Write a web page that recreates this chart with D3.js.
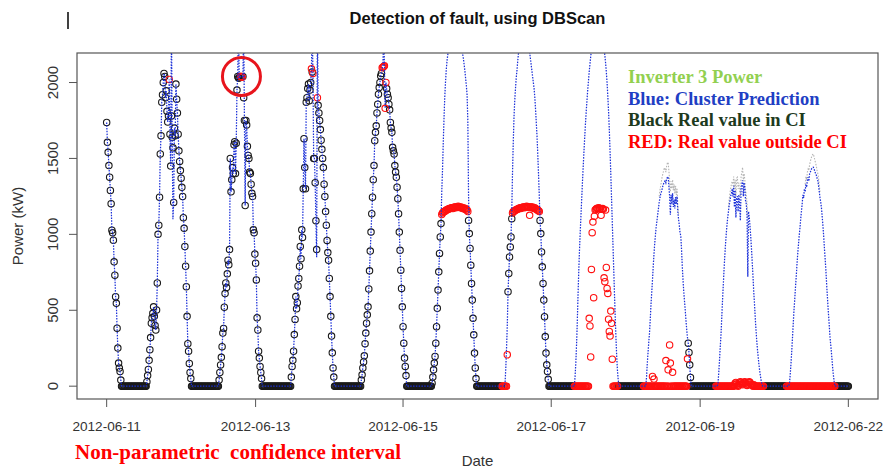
<!DOCTYPE html>
<html><head><meta charset="utf-8">
<script src="https://cdn.jsdelivr.net/npm/d3@7"></script>
<style>
body{margin:0;background:#fff}
svg{display:block;font-family:"Liberation Sans",Arial,sans-serif}
</style></head>
<body>
<svg id="chart" width="885" height="470"></svg>
<script>
// ---------------- DATA (15-minute readings, kW) ----------------
const sampleHours = 0.25;

// Inverter 3 real power, one array per day (daylight values followed by the night's zeros)
const actualD01 = [1737,1606,1540,1453,1376,1289,1202,1027,1010,961,819,731,589,546,382,251,152,119,97,40,
  0,0,0,0,0,0,0,0,0,0, 0,0,0,0,0,0,0,0,0,0, 0,0,0,0,0,0,0,0,0,0, 0,0,0,0];
const actualD02 = [30,70,110,170,240,320,415,450,480,523,460,400,370,502,680,1000,1060,1245,1530,1650,1870,1920,2000,
  2060,2040,1900,1945,1810,1740,1780,2020,1660,1450,1780,1640,1570,1210,1700,1650,1990,1890,1800,1660,1550,1480,1420,1370,1310,1250,1110,1040,920,790,655,460,280,230,150,90,50,
  0,0,0,0,0,0,0,0,0,0, 0,0,0,0,0,0,0,0,0,0, 0,0,0,0,0,0,0,0,0,0, 0,0,0,0,0,0,0];
const actualD03 = [40,90,140,190,260,350,380,520,610,680,650,740,830,800,900,1500,1280,1360,1440,1400,1590,1610,1400,1600,1950,2040,2030,2030,2040,2040,2040,2035,2040,1900,1750,1190,1750,1720,1580,1520,1500,1410,1400,1330,1270,1250,1030,1010,870,810,700,450,370,230,185,130,90,50,
  0,0,0,0,0,0,0,0,0,0, 0,0,0,0,0,0,0,0,0,0, 0,0,0,0,0,0,0,0,0,0, 0,0,0,0,0,0,0,0,0];
const actualD04 = [60,130,170,230,340,440,590,510,550,660,710,790,920,840,1030,980,1300,1630,1440,1300,1870,1900,1960,1990,1880,1950,2000,2090,2070,2060,1500,1500,1340,1090,900,1900,1850,1800,1750,1690,1620,1560,1500,1440,1330,1250,1150,1060,960,880,830,710,590,460,330,220,120,60,
  0,0,0,0,0,0,0,0,0,0, 0,0,0,0,0,0,0,0,0,0, 0,0,0,0,0,0,0,0,0,0, 0,0,0,0,0,0];
const actualD05 = [40,75,120,160,200,280,350,415,470,523,640,760,890,1015,1136,1245,1360,1453,1617,1672,1715,1800,1857,1923,1967,2000,2043,2060,2098,2100,2105,2110,1830,2000,1960,1923,1900,1857,1820,1737,1700,1672,1573,1550,1530,1453,1410,1376,1311,1235,1136,1015,895,764,644,523,392,283,185,130,70,
  0,0,0,0,0,0,0,0,0,0, 0,0,0,0,0,0,0,0,0,0, 0,0,0,0,0,0,0,0,0,0, 0,0,0,0];
const actualD06 = [20,60,108,152,196,283,392,513,633,753,874,983,1071,
  1130,1140,1145,1150,1150,1155,1160,1160,1165,1165,1170,1170,1170,1175,1175,1170,1175,1180,1180,1175,1180,1180,1185,1180,1180,1175,1180,1175,1170,1175,1170,1165,1170,1160,1160,1150,
  1092,1005,907,797,677,567,447,338,218,120,50,
  0,0,0,0,0,0,0,0,0,0, 0,0,0,0,0,0,0,0,0,0, 0,0,0,0,0,0,0,0,0,0, 0,0,0,0,0,0,0,0,0,0, 0];
const actualD07 = [207,622,742,851,917,983,1103,
  1140,1150,1150,1155,1160,1160,1165,1165,1170,1170,1175,1170,1175,1175,1180,1180,1175,1180,1180,1185,1180,1180,1180,1125,1180,1180,1175,1180,1175,1170,1175,1170,1165,1160,1160,1155,1150,
  1092,1005,884,786,677,567,458,327,218,141,97,45,
  0,0,0,0,0,0,0,0,0,0, 0,0,0,0,0,0,0,0,0,0, 0,0,0,0,0,0,0,0,0,0, 0,0,0,0,0,0,0,0,0,0, 0,0,0,0,0,0,0,0,0,0, 0,0,0];
const actualD08 = [0,447,397,193,769,1011,1081,583,1120,1160,1165,1170,1172,1170,1175,1170,1168,1125,1165,1170,1165,714,688,1160,782,644,611,441,360,330,495,414,178,
  0,0,0,0,0,0,0,0,0,0, 0,0,0,0,0,0,0,0,0,0, 0,0,0,0,0,0,0,0,0,0, 0,0,0,0,0,0,0,0,0,0, 0];
const actualD09 = [0,0,0,0,0,0,0,0,0,0,0,0,64,0,47,0,0,0,0,0,0,0,0,0,0,0,0,0,0,0,169,0,0,108,0,272,152,0,0,91,
  0,0,0,0,0,0,0,0,0,0,0,0,0,0,0,0,0,0,0,180,283,222,141,58,0,0,0,0,
  0,0,0,0,0,0,0,0,0,0, 0,0,0,0,0,0,0,0,0,0, 0,0,0,0,0,0,0,0,0,0, 0,0];
const actualD10 = [0,0,0,0,0,0,0,0,0,0,0,0,0,0,0,0,0,0,0,0,0,0,
  10,20,25,15,5,0,10,20,30,25,15,10,20,25,30,20,10,5,15,25,30,25,15,10,5,0,10,5,
  0,0,0,0,0,0,0,0,0,0,0,0,
  0,0,0,0,0,0,0,0,0,0, 0,0,0,0,0,0,0,0,0,0, 0,0,0,0,0,0,0,0,0,0];
const actualD11 = [0,0,0,0,0,0,0,0,0,0, 0,0,0,0,0,0,0,0,0,0, 0,0,0,0,0,0,0,0,0,0, 0,0,0,0,0,0,0,0,0,0,
  0,0,0,0,0,0,0,0,0,0, 0,0,0,0,0,0,0,0,0,0, 0,0,0,0,0,0,
  0,0,0,0,0,0,0,0,0,0, 0,0,0,0,0,0,0,0];

// readings (sample index ranges) that fall outside the confidence interval -> red
const outsideCI = [[84,84],[180,182],[275,275],[277,277],[283,283],[370,375],[450,485],[531,538],[545,581],[628,686],[721,780],[818,882],[913,978]];

// cluster prediction: days 1-5 follow the real values except these readings
const predFollowsUntil = 437;
const predOverrides = [[87,2400],[89,1100],[177,2400],[184,2400],[276,2400],[282,850],[283,2400],[372,2400]];
// cluster prediction for days 6-11 (start sample, values)
const predD06Start = 437;
const predD06 = [20,60,108,152,196,283,392,513,633,753,874,983,1071,
  1280,1420,1600,1760,1900,2000,2080,2140,2180,2210,2240,2260,2280,2300,2310,2320,2330,2330,2335,2335,
  2330,2325,2320,2305,2290,2270,2250,2220,2190,2160,2120,2080,2030,1980,1920,1750,
  1250,1005,907,797,677,567,447,338,218,120,50];
const predD07Start = 533;
const predD07 = [0,0,20,120,250,400,622,742,851,917,983,1150,1400,1600,1770,1880,1960,2030,2080,2140,
  2190,2230,2260,2290,2310,2320,2330,2330,2330,2320,2310,2300,2280,2260,2230,2200,2160,2120,2080,2040,
  2000,1960,1900,1820,1730,1640,1520,1390,1250,1092,1005,884,786,677,567,458,327,218,141,97,45];
const predD08Start = 628;
const predD08 = [0,60,150,270,420,600,760,900,1020,1130,1240,1350,1450,1550,1640,1730,1810,1880,1950,2010,
  2070,2120,2170,2210,2250,2280,2300,2320,2330,2340,2345,2350,2350,2345,2340,2330,2320,2300,2280,2250,
  2220,2180,2130,2070,2000,1910,1810,1690,1550,1400,1240,1080,920,760,600,450,310,190,100,40,0];
const predD09Start = 724;
const predD09 = [0,60,150,220,290,350,440,540,620,700,790,870,940,1000,1050,1090,1130,1170,1210,1240,
  1265,1280,1300,1320,1335,1345,1355,1340,1365,1375,1380,1320,1250,1130,1260,1200,1270,1180,1230,1170,
  1245,1200,1250,1150,1100,1060,1010,990,900,790,700,620,560,500,430,370,320,283,222,141,58];
const predD10Start = 821;
const predD10 = [20,90,170,260,340,450,560,660,760,850,930,1000,1060,1110,1150,1190,1220,1250,1270,1300,
  1250,1320,1180,1290,1110,1240,1250,1150,1260,1200,1090,1300,1330,1355,1250,1340,1300,1220,1200,1120,
  720,1150,1110,1050,980,900,810,720,620,540,450,370,300,240,190,140,100,65,35,15,0,0];
const predD11Start = 917;
const predD11 = [20,80,150,230,320,410,500,570,650,720,800,870,930,990,1040,1100,1150,1200,1260,1240,
  1300,1280,1330,1310,1360,1376,1350,1400,1410,1425,1435,1440,1442,1430,1415,1400,1390,1370,1355,1320,
  1280,1240,1210,1170,1110,1050,980,900,830,750,660,580,500,430,350,290,240,180,120,70,30,0];

// inverter 3 power trace, visible above the prediction near the peaks of days 9-11
const inv3D09Start = 742;
const inv3D09 = [1250,1290,1320,1350,1380,1400,1420,1440,1430,1410,1450,1470,1475,1420,1360,1280,1350,1300,1360,1290,1330,1270,1320,1260,1300,1200,1130];
const inv3D10Start = 835;
const inv3D10 = [1180,1230,1270,1300,1330,1350,1320,1380,1300,1360,1250,1370,1376,1300,1340,1280,1250,1380,1410,1442,1350,1400,1360,1290,1260,1200,1100];
const inv3D11Start = 938;
const inv3D11 = [1330,1380,1360,1410,1430,1420,1460,1480,1500,1515,1525,1530,1510,1490,1470,1450,1420,1400,1370,1320,1280];

// axes
const yTicks = [0,500,1000,1500,2000];
const xTickHours = [0,50,99.5,149.25,199.25,249];
const xTickLabels = ["2012-06-11","2012-06-13","2012-06-15","2012-06-17","2012-06-19","2012-06-22"];
const flaggedSample = 181;   // circled fault on 2012-06-12

// ---------------- CHART ----------------
const svg = d3.select("#chart");
const W = 885, H = 470;
const plot = {left:77, top:53, right:878, bottom:399};

const actual = [].concat(actualD01,actualD02,actualD03,actualD04,actualD05,actualD06,actualD07,actualD08,actualD09,actualD10,actualD11);
const n = actual.length;
const hourOf = i => i * sampleHours;
const outside = i => outsideCI.some(([a,b]) => i >= a && i <= b);

const pred = actual.map((v,i) => i < predFollowsUntil ? v : 0);
predOverrides.forEach(([i,v]) => pred[i] = v);
[[predD06Start,predD06],[predD07Start,predD07],[predD08Start,predD08],[predD09Start,predD09],[predD10Start,predD10],[predD11Start,predD11]]
  .forEach(([s,arr]) => arr.forEach((v,k) => pred[s+k] = v));

// R-style 4% axis expansion
const hMax = hourOf(n-1);
const vMax = d3.max(actual);
const x = d3.scaleLinear().domain([-0.04*hMax, 1.04*hMax]).range([plot.left, plot.right]);
const y = d3.scaleLinear().domain([-0.04*vMax, 1.04*vMax]).range([plot.bottom, plot.top]);

svg.append("rect").attr("width",W).attr("height",H).attr("fill","#fff");
svg.append("defs").append("clipPath").attr("id","clip")
  .append("rect").attr("x",plot.left).attr("y",plot.top)
  .attr("width",plot.right-plot.left).attr("height",plot.bottom-plot.top);

const g = svg.append("g").attr("clip-path","url(#clip)");

// circles
const pts = actual.map((v,i) => ({h:hourOf(i), v, out:outside(i)}));
g.append("g").selectAll("circle").data(pts.filter(d=>!d.out)).join("circle")
  .attr("cx",d=>x(d.h)).attr("cy",d=>y(d.v)).attr("r",3.2)
  .attr("fill","none").attr("stroke","#1a1a1a").attr("stroke-width",1.1);
g.append("g").selectAll("circle").data(pts.filter(d=>d.out)).join("circle")
  .attr("cx",d=>x(d.h)).attr("cy",d=>y(d.v)).attr("r",3.2)
  .attr("fill","none").attr("stroke","#ff1010").attr("stroke-width",1.1);

const line = d3.line().x(d=>x(d.h)).y(d=>y(d.v));
// inverter 3 power (grey dotted)
[[inv3D09Start,inv3D09],[inv3D10Start,inv3D10],[inv3D11Start,inv3D11]].forEach(([s,arr]) => {
  g.append("path").datum(arr.map((v,k)=>({h:hourOf(s+k), v})))
    .attr("d",line).attr("fill","none").attr("stroke","#b4b4b4")
    .attr("stroke-width",1.1).attr("stroke-dasharray","1.5,1.5");
});
// cluster prediction (blue dotted)
g.append("path").datum(pred.map((v,i)=>({h:hourOf(i), v})))
  .attr("d",line).attr("fill","none").attr("stroke","#1a2fd8")
  .attr("stroke-width",1.25).attr("stroke-dasharray","1.5,1.3");

// frame
svg.append("rect").attr("x",plot.left).attr("y",plot.top)
  .attr("width",plot.right-plot.left).attr("height",plot.bottom-plot.top)
  .attr("fill","none").attr("stroke","#555").attr("stroke-width",1.2);

// y axis
const ya = svg.append("g");
yTicks.forEach(t => {
  ya.append("line").attr("x1",plot.left-8).attr("x2",plot.left).attr("y1",y(t)).attr("y2",y(t))
    .attr("stroke","#555").attr("stroke-width",1);
  ya.append("text").attr("transform",`translate(${plot.left-19},${y(t)}) rotate(-90)`)
    .attr("text-anchor","middle").attr("font-size",15).attr("fill","#333").text(t);
});
// x axis
const xa = svg.append("g");
xTickHours.forEach((t,i) => {
  xa.append("line").attr("x1",x(t)).attr("x2",x(t)).attr("y1",plot.bottom).attr("y2",plot.bottom+8)
    .attr("stroke","#555").attr("stroke-width",1);
  xa.append("text").attr("x",x(t)).attr("y",431).attr("text-anchor","middle")
    .attr("font-size",13.6).attr("fill","#333").text(xTickLabels[i]);
});

// titles
svg.append("text").attr("x",(plot.left+plot.right)/2).attr("y",24).attr("text-anchor","middle")
  .attr("font-size",16.5).attr("font-weight","bold").attr("fill","#111").text("Detection of fault, using DBScan");
svg.append("text").attr("transform",`translate(23,${(plot.top+plot.bottom)/2}) rotate(-90)`)
  .attr("text-anchor","middle").attr("font-size",15).attr("fill","#333").text("Power (kW)");
svg.append("text").attr("x",(plot.left+plot.right)/2).attr("y",466).attr("text-anchor","middle")
  .attr("font-size",15).attr("fill","#333").text("Date");
svg.append("line").attr("x1",68).attr("x2",68).attr("y1",12).attr("y2",29).attr("stroke","#111").attr("stroke-width",1.6);

// legend (annotation text)
const legend = [
  ["Inverter 3 Power","#92d050"],
  ["Blue: Cluster Prediction","#1f3fc4"],
  ["Black Real value in CI","#1d3a1d"],
  ["RED: Real value outside CI","#ff0000"]
];
legend.forEach(([t,c],i) => {
  svg.append("text").attr("x",628).attr("y",83+i*21.5)
    .attr("font-family","'Liberation Serif','Times New Roman',serif").attr("font-weight","bold")
    .attr("font-size",18.5).attr("fill",c).text(t);
});
svg.append("text").attr("x",75).attr("y",459)
  .attr("font-family","'Liberation Serif','Times New Roman',serif").attr("font-weight","bold")
  .attr("font-size",21).attr("fill","#ff0000").attr("xml:space","preserve").style("white-space","pre")
  .text("Non-parametric  confidence interval");

// circled fault
svg.append("ellipse").attr("cx",x(hourOf(flaggedSample))).attr("cy",y(actual[flaggedSample]))
  .attr("rx",19).attr("ry",19).attr("fill","none").attr("stroke","#e8141c").attr("stroke-width",3);
</script>
</body></html>
